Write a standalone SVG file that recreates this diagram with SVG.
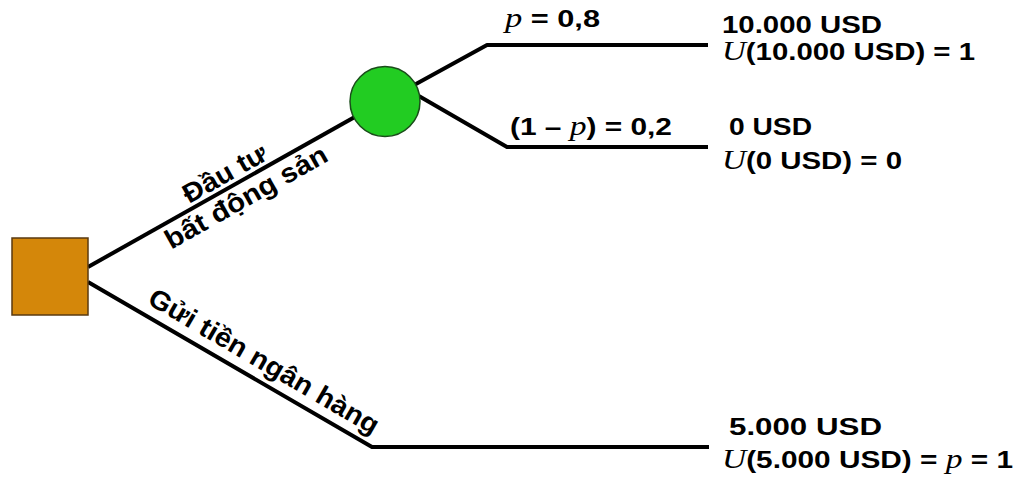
<svg xmlns="http://www.w3.org/2000/svg" width="1015" height="480" viewBox="0 0 1015 480">
<style>
.edge{fill:none;stroke:#000;stroke-width:4;stroke-linejoin:round}
.lbl{font-family:"Liberation Sans",Arial,sans-serif;font-weight:bold;font-size:24px;fill:#000}
.rot{font-size:27px}
.it{font-family:"Liberation Serif","Times New Roman",serif;font-style:italic;font-weight:normal;font-size:27px}
</style>
<rect width="1015" height="480" fill="#fff"/>
<g id="connectors">
<polyline class="edge" points="88,267 385,100"/>
<polyline class="edge" points="385,101 487,45 708,45"/>
<polyline class="edge" points="405,88 507,147 708,147"/>
<polyline class="edge" points="88,282 372,447 709,447"/>
</g>
<g id="decision">
<rect x="12" y="238" width="76" height="77" fill="#d4870a" stroke="#5a3a10" stroke-width="1.5"/>
</g>
<g id="chance">
<circle cx="385" cy="101.5" r="35" fill="#22cc22" stroke="#1a4d1a" stroke-width="1.5"/>
</g>
<g id="label-invest" transform="translate(88,267) rotate(-29.5)">
<text class="lbl rot" x="165" y="-5" text-anchor="middle" textLength="92" lengthAdjust="spacingAndGlyphs">Đầu tư</text>
<text class="lbl rot" x="172" y="26" text-anchor="middle" textLength="182" lengthAdjust="spacingAndGlyphs">bất động sản</text>
</g>
<g id="label-bank" transform="translate(88,282) rotate(30.2)">
<text class="lbl rot" x="192" y="-11" text-anchor="middle" textLength="262" lengthAdjust="spacingAndGlyphs">Gửi tiền ngân hàng</text>
</g>
<g id="prob-high">
<text class="lbl" x="505" y="27" textLength="95" lengthAdjust="spacingAndGlyphs"><tspan class="it">p</tspan> = 0,8</text>
</g>
<g id="prob-low">
<text class="lbl" x="510" y="135" textLength="162" lengthAdjust="spacingAndGlyphs">(1 – <tspan class="it">p</tspan>) = 0,2</text>
</g>
<g id="outcome-10000">
<text class="lbl" x="722" y="33" textLength="160" lengthAdjust="spacingAndGlyphs">10.000 USD</text>
<text class="lbl" x="722" y="60" textLength="253" lengthAdjust="spacingAndGlyphs"><tspan class="it" font-size="25">U</tspan>(10.000 USD) = 1</text>
</g>
<g id="outcome-0">
<text class="lbl" x="729" y="135" textLength="83" lengthAdjust="spacingAndGlyphs">0 USD</text>
<text class="lbl" x="722" y="169" textLength="180" lengthAdjust="spacingAndGlyphs"><tspan class="it">U</tspan>(0 USD) = 0</text>
</g>
<g id="outcome-5000">
<text class="lbl" x="729" y="435" textLength="153" lengthAdjust="spacingAndGlyphs">5.000 USD</text>
<text class="lbl" x="722" y="468" textLength="291" lengthAdjust="spacingAndGlyphs"><tspan class="it">U</tspan>(5.000 USD) = <tspan class="it">p</tspan> = 1</text>
</g>
</svg>
